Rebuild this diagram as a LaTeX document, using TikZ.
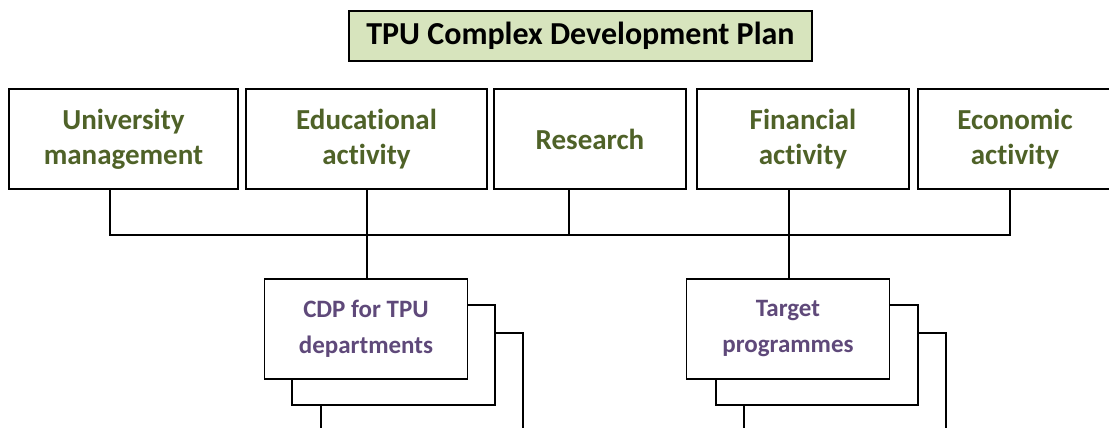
\documentclass[tikz,border=0pt]{standalone}
\usepackage{fontspec}
\setmainfont[Ligatures=NoCommon]{Carlito}
\usetikzlibrary{calc}

\definecolor{titlefill}{RGB}{215,228,189}
\definecolor{areagreen}{RGB}{79,98,40}
\definecolor{docpurple}{RGB}{95,73,122}

\tikzset{
  frame/.style={draw=black, line width=1.6pt, fill=white, inner sep=0pt, align=center},
  titlebox/.style={frame, fill=titlefill, minimum width=463pt, minimum height=50pt,
    font=\fontsize{32}{36}\selectfont\bfseries},
  areabox/.style={frame, minimum height=100pt, text=areagreen,
    font=\fontsize{29}{35}\selectfont\bfseries},
  docbox/.style={frame, minimum width=203pt, minimum height=100pt, text=docpurple,
    font=\fontsize{25}{36}\selectfont\bfseries},
  sheet/.style={draw=black, line width=1.6pt, fill=white},
  link/.style={draw=black, line width=1.6pt},
}

\begin{document}
\begin{tikzpicture}[x=1pt, y=-1pt]
  \useasboundingbox (0,0) rectangle (1109,428);
  \clip (0,0) rectangle (1109,428);

  % heading
  \node[titlebox] (title) at (580.5,36) {TPU Complex Development Plan};

  % areas of the plan
  \node[areabox, minimum width=229pt] (mgmt) at (123.5,139) {University\\management};
  \node[areabox, minimum width=241pt] (edu)  at (366.5,139) {Educational\\activity};
  \node[areabox, minimum width=192pt] (res)  at (590,139)   {Research};
  \node[areabox, minimum width=212pt] (fin)  at (803,139)   {Financial\\activity};
  \node[areabox, minimum width=194pt] (eco)  at (1015,139)  {Economic\\activity};

  % bus joining the areas
  \coordinate (bm) at (110,235);
  \coordinate (be) at (367,235);
  \coordinate (br) at (569,235);
  \coordinate (bf) at (789,235);
  \coordinate (bc) at (1010,235);
  \draw[link] (mgmt.south -| bm) -- (bm) -- (bc) -- (eco.south -| bc);
  \draw[link] (edu.south -| be) -- (be);
  \draw[link] (res.south -| br) -- (br);
  \draw[link] (fin.south -| bf) -- (bf);

  % stacked documents: CDP for departments
  \draw[sheet] (321,333) rectangle (523,460);
  \draw[sheet] (292,305) rectangle (495,405);
  \node[docbox] (cdp) at (366,329) {CDP for TPU\\departments};

  % stacked documents: target programmes
  \draw[sheet] (744,333) rectangle (946,460);
  \draw[sheet] (716,305) rectangle (918,405);
  \node[docbox] (tp) at (788,329) {Target\\programmes};

  \draw[link] (be) -- (cdp.north -| be);
  \draw[link] (bf) -- (tp.north -| bf);
\end{tikzpicture}
\end{document}
